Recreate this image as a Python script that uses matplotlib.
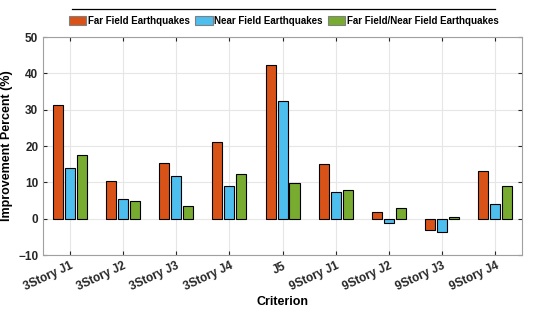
import numpy as np
import matplotlib
matplotlib.use("Agg")
import matplotlib.pyplot as plt

plt.rcParams['font.family'] = ['Liberation Sans', 'DejaVu Sans']
plt.rcParams['font.weight'] = 'bold'

# data
criteria = ['3Story J1', '3Story J2', '3Story J3', '3Story J4', 'J5',
            '9Story J1', '9Story J2', '9Story J3', '9Story J4']
far_field = [31.3, 10.5, 15.4, 21.2, 42.2, 15.0, 1.9, -3.0, 13.2]
near_field = [14.0, 5.5, 11.8, 9.1, 32.4, 7.3, -1.2, -3.6, 4.1]
far_near = [17.5, 4.8, 3.6, 12.2, 9.8, 8.0, 3.0, 0.6, 9.1]
series_names = ['Far Field Earthquakes', 'Near Field Earthquakes',
                'Far Field/Near Field Earthquakes']
colors = ['#D95319', '#4DBEEE', '#77AC30']

fig = plt.figure(figsize=(5.46, 3.11), dpi=100)
ax = fig.add_axes([0.079, 0.18, 0.877, 0.701])

x = np.arange(1, len(criteria) + 1)
w = 0.19
for i, (vals, name, c) in enumerate(zip([far_field, near_field, far_near], series_names, colors)):
    ax.bar(x + (i - 1) * 0.225, vals, width=w, color=c, edgecolor='black',
           linewidth=0.8, label=name, zorder=3)

ax.set_xlim(0.5, 9.5)
ax.set_ylim(-10, 50)
ax.set_yticks(range(-10, 51, 10))
ax.set_xticks(x)
ax.set_xticklabels(criteria, rotation=25, ha='right', rotation_mode='anchor', fontsize=8.5)
ax.tick_params(axis='y', labelsize=8.5, length=3, colors='#262626', right=True, direction='in')
ax.tick_params(axis='x', length=3, colors='#262626', top=True, direction='in')
ax.grid(True, color='#e6e6e6', linewidth=0.8, zorder=0)
for s in ax.spines.values():
    s.set_color('#a0a0a0')
ax.set_xlabel('Criterion', fontsize=9, fontweight='bold', labelpad=2)
ax.set_ylabel('Improvement Percent (%)', fontsize=9, fontweight='bold', labelpad=4)

leg = fig.legend(loc='upper center', bbox_to_anchor=(0.52, 0.97), ncol=3, fontsize=7,
                 frameon=False, handlelength=1.8, handleheight=1.1, handletextpad=0.2,
                 columnspacing=0.5, borderpad=0.2)
for p in leg.get_patches():
    p.set_edgecolor('#808080')
fig.add_artist(plt.Line2D([0.132, 0.907], [0.972, 0.972], color='black', linewidth=0.9,
                          transform=fig.transFigure, zorder=10))

fig.savefig('out.png', dpi=100)
